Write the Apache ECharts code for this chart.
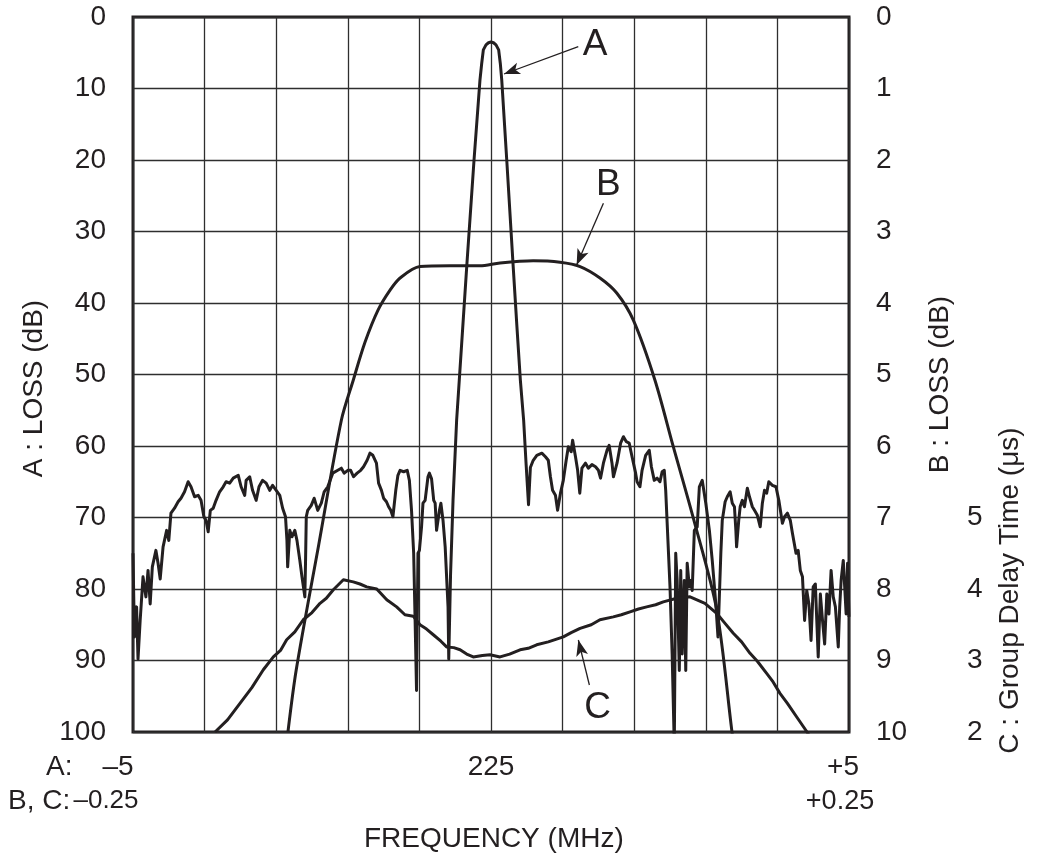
<!DOCTYPE html>
<html>
<head>
<meta charset="utf-8">
<script src="https://cdn.jsdelivr.net/npm/echarts@6/dist/echarts.min.js"></script>
<style>
html,body{margin:0;padding:0;background:#fff;}
#chart{width:1045px;height:863px;}
</style>
</head>
<body>
<div id="chart"></div>
<script>
// ---- Curve A (frequency offset in MHz, scale -5..+5 ; loss in dB, 0..100) ----
const aFreq = [
-5.00,-4.98,-4.95,-4.93,-4.90,-4.86,-4.82,-4.79,-4.76,-4.73,-4.68,-4.65,-4.62,-4.58,-4.53,-4.50,-4.47,-4.42,-4.37,-4.33,
-4.28,-4.23,-4.19,-4.14,-4.09,-4.05,-4.01,-3.98,-3.95,-3.92,-3.88,-3.84,-3.79,-3.74,-3.70,-3.65,-3.60,-3.53,-3.49,-3.44,
-3.42,-3.37,-3.33,-3.28,-3.24,-3.19,-3.14,-3.09,-3.05,-3.00,-2.95,-2.91,-2.87,-2.85,-2.84,-2.81,-2.78,-2.74,-2.71,-2.67,
-2.64,-2.60,-2.59,-2.58,-2.56,-2.51,-2.47,-2.42,-2.37,-2.33,-2.28,-2.21,-2.14,-2.09,-2.05,-2.00,-1.96,-1.92,-1.87,-1.82,
-1.78,-1.73,-1.69,-1.65,-1.60,-1.57,-1.53,-1.50,-1.46,-1.43,-1.40,-1.37,-1.33,-1.30,-1.27,-1.22,-1.17,-1.14,-1.11,-1.08,
-1.06,-1.04,-1.02,-1.00,-0.97,-0.95,-0.92,-0.88,-0.86,-0.83,-0.80,-0.78,-0.76,-0.72,-0.70,-0.67,-0.64,-0.62,-0.60,-0.59,
-0.565,-0.53,-0.48,-0.443,-0.339,-0.237,-0.154,-0.13,-0.107,-0.07,-0.035,0,0.035,0.07,0.107,0.13,0.15,0.22,0.31,0.36,
0.41,0.456,0.49,0.524,0.55,0.59,0.64,0.71,0.76,0.80,0.83,0.86,0.90,0.93,0.97,1.01,1.05,1.08,1.12,1.14,
1.18,1.21,1.24,1.27,1.32,1.36,1.41,1.46,1.50,1.53,1.57,1.62,1.65,1.69,1.71,1.76,1.81,1.85,1.89,1.93,
1.97,2.02,2.04,2.08,2.11,2.16,2.21,2.24,2.28,2.32,2.36,2.39,2.42,2.44,2.46,2.50,2.53,2.56,2.565,2.58,
2.60,2.63,2.65,2.67,2.70,2.72,2.74,2.77,2.79,2.81,2.84,2.88,2.91,2.95,3.00,3.05,3.09,3.14,3.17,3.21,
3.23,3.27,3.30,3.34,3.37,3.40,3.42,3.43,3.46,3.48,3.51,3.54,3.58,3.61,3.65,3.68,3.72,3.76,3.79,3.82,
3.85,3.88,3.93,3.98,4.02,4.07,4.10,4.14,4.18,4.21,4.26,4.29,4.32,4.35,4.38,4.41,4.44,4.47,4.50,4.53,
4.57,4.60,4.63,4.66,4.69,4.72,4.75,4.78,4.81,4.85,4.87,4.89,4.92,4.94,4.96,4.98,5.00
];
const aLoss = [
75.0,86.7,82.5,89.8,84.4,78.3,81.1,77.4,82.1,76.9,74.6,76.4,78.6,74.1,71.8,73.2,69.4,68.7,67.8,67.3,
66.4,65.0,65.7,67.1,66.9,67.6,69.9,70.4,72.0,69.0,68.7,67.6,66.4,65.7,65.0,65.2,64.5,64.1,65.7,66.9,
64.8,64.3,66.2,67.6,65.7,64.8,65.2,66.2,65.5,66.2,66.9,68.7,69.9,73.2,76.9,71.8,72.7,71.8,73.2,76.0,
78.3,81.1,76.0,69.9,69.0,68.3,67.3,69.0,68.0,66.4,65.7,63.8,63.4,63.1,63.8,63.4,63.4,64.3,63.8,63.4,
62.9,62.0,61.0,61.3,62.4,65.2,66.2,67.3,67.8,68.5,69.0,69.9,66.2,64.1,63.4,63.6,63.4,64.8,69.0,75.0,
84.4,94.2,75.0,74.6,71.3,68.0,67.6,64.3,63.8,64.6,67.6,68.0,71.8,69.0,68.0,70.4,74.1,73.9,82.5,89.8,
78.0,67.5,56.4,50.8,34.9,20.0,8.8,6.5,4.6,3.9,3.6,3.5,3.6,3.9,4.6,6.5,8.8,20.0,34.9,43.0,
50.8,56.4,62.5,68.2,63.0,62.0,61.3,61.0,61.5,62.0,64.3,66.2,66.9,69.0,66.6,64.8,62.0,60.1,60.8,59.2,
61.5,63.4,66.6,63.1,62.4,63.1,62.6,62.9,63.4,64.5,62.4,60.6,59.9,62.4,64.3,62.4,59.6,58.7,59.4,59.6,
61.5,63.8,65.0,65.7,63.4,61.3,60.6,62.9,64.8,64.5,65.0,63.6,63.4,66.2,66.4,79.7,89.1,102,102,75.0,
78.8,91.4,77.4,89.1,78.8,91.4,76.4,79.7,78.8,80.2,71.8,71.3,65.7,64.8,68.0,71.8,76.0,82.1,86.7,75.0,
70.4,67.8,67.1,66.4,68.0,68.5,71.8,74.1,70.4,68.5,67.6,68.5,65.9,67.1,68.5,69.0,69.7,71.3,68.0,66.2,
66.6,65.0,65.5,65.7,67.6,70.8,69.9,69.4,70.4,72.2,75.0,74.6,77.4,78.3,84.4,80.2,82.1,87.2,79.7,79.3,
89.5,80.7,84.4,87.7,80.7,83.5,77.4,81.1,82.5,88.1,82.5,78.8,76.0,79.7,83.5,76.4,83.9
];

// ---- Curve B (frequency offset in MHz, scale -0.25..+0.25 ; loss in dB, 0..10) ----
const bFreq = [-0.1418,-0.1360,-0.1203,-0.1045,-0.0962,-0.0880,-0.0789,-0.0705,-0.0635,-0.0496,-0.0286,-0.0077,
0.0063,0.0295,0.0482,0.0622,0.0761,0.0878,0.0994,0.1145,0.1273,0.1413,0.1576,0.1681,0.1690];
const bLoss = [10.0,9.13,7.38,5.64,5.08,4.55,4.10,3.82,3.65,3.49,3.48,3.48,
3.44,3.41,3.43,3.49,3.65,3.86,4.24,5.08,6.01,7.01,8.29,9.97,10.1];

// ---- Curve C (frequency offset in MHz, scale -0.25..+0.25 ; group delay in µs) ----
const cFreq = [-0.1927,-0.1840,-0.1753,-0.1670,-0.1590,-0.1520,-0.1470,-0.1427,-0.1370,-0.1311,-0.1250,-0.1194,-0.1150,-0.1101,
-0.1031,-0.0962,-0.0915,-0.0868,-0.0798,-0.0728,-0.0659,-0.0601,-0.0543,-0.0496,-0.0450,-0.0403,-0.0350,-0.0310,-0.0260,-0.0216,
-0.0170,-0.0124,-0.0060,-0.0007,0.0063,0.0130,0.0203,0.0260,0.0319,0.0400,0.0505,0.0560,0.0622,0.0700,0.0761,0.0854,0.0910,0.0971,
0.1030,0.1087,0.1150,0.1203,0.1297,0.1390,0.1494,0.1576,0.1630,0.1692,0.1750,0.1809,0.1860,0.1925,0.1970,0.2018,0.2070,0.2135,0.2207,0.2227];
const cDelay = [2.00,2.17,2.40,2.62,2.87,3.05,3.14,3.29,3.40,3.57,3.67,3.80,3.87,3.99,
4.13,4.10,4.07,4.03,4.00,3.85,3.75,3.64,3.62,3.50,3.44,3.36,3.27,3.19,3.18,3.15,
3.09,3.05,3.07,3.08,3.05,3.09,3.15,3.17,3.22,3.26,3.33,3.39,3.45,3.50,3.57,3.61,3.64,3.68,
3.72,3.75,3.78,3.82,3.87,3.89,3.80,3.66,3.53,3.38,3.26,3.10,2.99,2.82,2.70,2.54,2.40,2.21,2.00,1.93];

// ---- Axis tick labels ----
const aTickLabels = {'-5': '\u20135', '0': '225', '5': '+5'};
const bcTickLabels = {'-0.25': '\u20130.25', '0.25': '+0.25'};
const cShownTicks = [2, 3, 4, 5];

// ---- Annotation anchor points (in data units of each curve) ----
const annA = {label: [1.453, 3.9], from: [1.219, 4.15], to: [0.182, 7.97]};
const annB = {label: [0.0819, 2.35], from: [0.0785, 2.606], to: [0.0598, 3.469]};
const annC = {label: [0.0744, 2.343], from: [0.0687, 2.657], to: [0.0610, 3.287]};

const zip = (xs, ys) => xs.map((x, i) => [x, ys[i]]);
const INK = '#231f20';
const FONT = '"Liberation Sans", Arial, Helvetica, sans-serif';
const FS = 28;

function annotation(ann, letter) {
  return {
    markLine: {
      silent: true, animation: false,
      symbol: ['none', 'arrow'], symbolSize: [9, 16],
      lineStyle: {color: INK, width: 1.3, type: 'solid'},
      label: {show: false},
      data: [[{coord: ann.from}, {coord: ann.to}]]
    },
    markPoint: {
      silent: true, animation: false,
      symbol: 'circle', symbolSize: 0,
      label: {show: true, position: 'inside', formatter: letter, color: INK, fontSize: 37, fontFamily: FONT},
      data: [{coord: ann.label}]
    }
  };
}

const chart = echarts.init(document.getElementById('chart'));
const lineBase = {type: 'line', showSymbol: false, symbol: 'none', clip: true, animation: false, silent: true,
  lineStyle: {color: INK, width: 3, join: 'round'}};
const titleStyle = {fontSize: FS, fontWeight: 'normal', color: INK, fontFamily: FONT};

chart.setOption({
  backgroundColor: '#fff',
  animation: false,
  textStyle: {fontFamily: FONT, color: INK},
  title: [
    {text: 'FREQUENCY (MHz)', left: 364, top: 825, textStyle: titleStyle, padding: 0},
    {text: 'A:', left: 46, top: 753, textStyle: titleStyle, padding: 0},
    {text: 'B, C:', left: 8, top: 787, textStyle: titleStyle, padding: 0}
  ],
  grid: {left: 133, right: 196, top: 17, bottom: 131, show: true, borderColor: INK, borderWidth: 3, backgroundColor: 'transparent'},
  xAxis: [
    {type: 'value', min: -5, max: 5, interval: 1, position: 'bottom',
      axisLine: {show: false}, axisTick: {show: false},
      splitLine: {show: true, lineStyle: {color: '#2e2e2e', width: 1.3}},
      axisLabel: {margin: 21, fontSize: FS, color: INK, fontFamily: FONT, showMinLabel: true, showMaxLabel: true,
        formatter: v => {
          const t = aTickLabels[String(v)];
          if (!t) return '';
          if (v < 0) return '{l|' + t + '}';
          if (v > 0) return '{r|' + t + '}';
          return t;
        },
        rich: {l: {fontSize: FS, fontFamily: FONT, color: INK, padding: [0, 30, 0, 0]},
               r: {fontSize: FS, fontFamily: FONT, color: INK, padding: [0, 12, 0, 0]}}}},
    {type: 'value', min: -0.25, max: 0.25, interval: 0.05, position: 'bottom',
      axisLine: {show: false}, axisTick: {show: false}, splitLine: {show: false},
      axisLabel: {margin: 56, fontSize: FS, color: INK, fontFamily: FONT, showMinLabel: true, showMaxLabel: true,
        formatter: v => {
          const key = (Math.round(v * 100) / 100).toString();
          const t = bcTickLabels[key];
          if (!t) return '';
          return v < 0 ? '{l|' + t + '}' : '{r|' + t + '}';
        },
        rich: {l: {fontSize: 26, fontFamily: FONT, color: INK, padding: [0, 54, 0, 0]},
               r: {fontSize: 27, fontFamily: FONT, color: INK, padding: [0, 18, 0, 0]}}}}
  ],
  yAxis: [
    {type: 'value', min: 0, max: 100, interval: 10, inverse: true, position: 'left',
      axisLine: {show: false}, axisTick: {show: false},
      splitLine: {show: true, lineStyle: {color: '#2e2e2e', width: 1.3}},
      axisLabel: {margin: 27, fontSize: FS, color: INK, fontFamily: FONT},
      name: 'A : LOSS (dB)', nameLocation: 'middle', nameGap: 84, nameRotate: 90,
      nameTextStyle: {fontSize: FS, color: INK, fontFamily: FONT, padding: [0, 28, 0, 0]}},
    {type: 'value', min: 0, max: 10, interval: 1, inverse: true, position: 'right',
      axisLine: {show: false}, axisTick: {show: false}, splitLine: {show: false},
      axisLabel: {margin: 27, fontSize: FS, color: INK, fontFamily: FONT},
      name: 'B : LOSS (dB)', nameLocation: 'middle', nameGap: 77, nameRotate: 90,
      nameTextStyle: {fontSize: FS, color: INK, fontFamily: FONT, padding: [0, 20, 0, 0]}},
    {type: 'value', min: 2, max: 12, interval: 1, position: 'right',
      axisLine: {show: false}, axisTick: {show: false}, splitLine: {show: false},
      axisLabel: {margin: 118, fontSize: FS, color: INK, fontFamily: FONT,
        formatter: v => cShownTicks.includes(v) ? String(v) : ''},
      name: 'C : Group Delay Time (\u03bcs)', nameLocation: 'middle', nameGap: 147, nameRotate: 90,
      nameTextStyle: {fontSize: FS, color: INK, fontFamily: FONT, padding: [0, 432, 0, 0]}}
  ],
  series: [
    Object.assign({}, lineBase, {name: 'A', xAxisIndex: 0, yAxisIndex: 0, data: zip(aFreq, aLoss)}, annotation(annA, 'A')),
    Object.assign({}, lineBase, {name: 'B', xAxisIndex: 1, yAxisIndex: 1, smooth: 0.3, data: zip(bFreq, bLoss)}, annotation(annB, 'B')),
    Object.assign({}, lineBase, {name: 'C', xAxisIndex: 1, yAxisIndex: 2, data: zip(cFreq, cDelay)}, annotation(annC, 'C'))
  ]
});
</script>
</body>
</html>
